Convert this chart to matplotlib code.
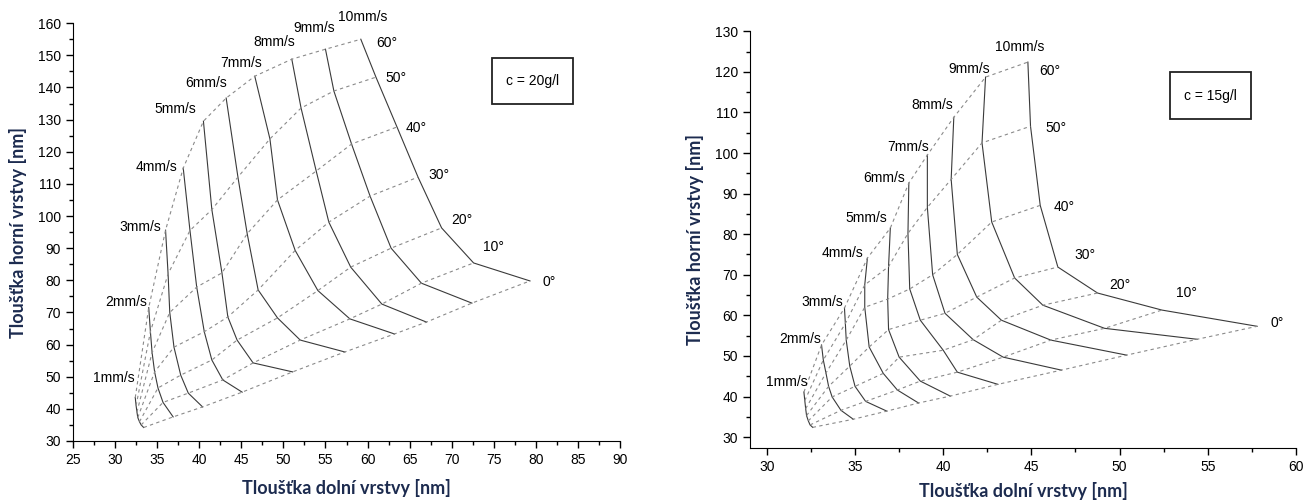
import matplotlib
matplotlib.use('Agg')
import matplotlib.pyplot as plt
from matplotlib.patches import Rectangle
from matplotlib.ticker import MultipleLocator

plt.rcParams['font.family'] = ['Liberation Sans', 'DejaVu Sans']

speeds = [1, 2, 3, 4, 5, 6, 7, 8, 9, 10]
angles = [60, 50, 40, 30, 20, 10, 0]

# c = 20 g/l : one row per speed, columns follow angles (60 ... 0)
left_x = [
    [32.4, 32.5, 32.6, 32.7, 32.9, 33.1, 33.4],
    [34.0, 34.2, 34.4, 34.7, 35.1, 35.7, 36.9],
    [36.0, 36.3, 36.5, 37.0, 37.8, 38.7, 40.4],
    [38.1, 38.9, 39.7, 40.6, 41.5, 42.8, 45.1],
    [40.5, 41.5, 42.7, 43.4, 44.5, 46.4, 51.1],
    [43.2, 44.6, 45.7, 47.0, 49.3, 52.0, 57.3],
    [46.6, 48.4, 49.3, 51.4, 54.1, 57.9, 63.2],
    [51.0, 52.1, 53.9, 55.4, 58.0, 61.7, 67.0],
    [55.0, 56.0, 58.1, 60.3, 62.8, 66.4, 72.4],
    [59.2, 61.0, 63.5, 66.0, 68.8, 72.6, 79.3],
]
left_y = [
    [43.5, 41.0, 39.0, 37.3, 36.0, 35.0, 34.2],
    [71.5, 64.0, 57.5, 51.5, 46.5, 42.0, 37.5],
    [95.6, 82.0, 70.0, 59.2, 50.5, 44.9, 40.6],
    [114.9, 95.5, 77.9, 64.0, 55.2, 49.0, 45.2],
    [129.5, 102.0, 82.3, 68.6, 61.4, 54.3, 51.5],
    [136.7, 112.1, 94.5, 77.0, 68.3, 61.4, 57.7],
    [143.5, 124.0, 105.0, 89.3, 76.8, 68.0, 63.3],
    [148.8, 133.6, 114.0, 98.1, 84.1, 72.6, 67.0],
    [151.9, 138.9, 122.4, 106.2, 90.0, 79.1, 72.9],
    [155.0, 143.2, 127.7, 112.1, 96.3, 85.4, 79.8],
]

# c = 15 g/l
right_x = [
    [32.1, 32.15, 32.2, 32.25, 32.35, 32.45, 32.6],
    [33.1, 33.2, 33.35, 33.5, 33.7, 34.2, 34.9],
    [34.4, 34.45, 34.5, 34.7, 35.0, 35.6, 36.8],
    [35.7, 35.55, 35.55, 35.8, 36.6, 37.4, 38.6],
    [37.0, 36.9, 36.85, 36.9, 37.5, 38.7, 40.4],
    [38.05, 38.0, 38.1, 38.7, 40.0, 40.8, 43.1],
    [39.1, 39.1, 39.4, 40.1, 41.7, 43.4, 46.7],
    [40.6, 40.45, 40.8, 41.9, 43.3, 46.1, 50.4],
    [42.4, 42.2, 42.75, 44.05, 45.65, 49.15, 54.4],
    [44.8, 44.95, 45.5, 46.5, 48.75, 52.4, 57.8],
]
right_y = [
    [41.1, 39.0, 37.0, 35.3, 34.0, 33.0, 32.4],
    [52.7, 49.0, 45.8, 42.5, 39.9, 36.6, 34.4],
    [61.8, 58.0, 53.9, 47.5, 42.5, 38.8, 36.4],
    [74.1, 67.5, 62.0, 52.2, 45.7, 41.6, 38.4],
    [81.5, 72.0, 64.0, 56.5, 49.7, 43.8, 40.1],
    [92.6, 80.2, 66.5, 58.8, 51.4, 46.0, 43.0],
    [99.5, 86.6, 70.0, 60.5, 54.0, 49.7, 46.5],
    [108.8, 93.5, 75.0, 64.5, 58.8, 53.9, 50.2],
    [118.7, 102.5, 83.0, 69.2, 62.5, 56.8, 54.1],
    [122.4, 106.6, 87.1, 71.9, 65.5, 61.3, 57.3],
]

label_color = '#1c2b4f'


def draw_panel(ax, xs, ys, conc, speed_off, angle_off, box, xpad):
    for i in range(len(speeds)):
        ax.plot(xs[i], ys[i], color='#3a3a3a', lw=0.8)
    for j in range(len(angles)):
        ax.plot([r[j] for r in xs], [r[j] for r in ys], color='#8a8a8a',
                lw=0.8, ls=(0, (3, 3)))
    for i, s in enumerate(speeds):
        dx, dy = speed_off[i]
        ha = 'center' if s == 10 else 'right'
        ax.annotate(f'{s}mm/s', (xs[i][0], ys[i][0]), xytext=(dx, dy),
                    textcoords='offset pixels', ha=ha, va='center', fontsize=10)
    for j, a in enumerate(angles):
        dx, dy = angle_off[j]
        ax.annotate(f'{a}°', (xs[-1][j], ys[-1][j]), xytext=(dx, dy),
                    textcoords='offset pixels', ha='left', va='center', fontsize=10)
    ax.add_patch(Rectangle(box[:2], box[2], box[3], transform=ax.transAxes,
                           fill=False, lw=1.3, color='#222222'))
    ax.text(box[0] + box[2] / 2, box[1] + box[3] / 2, f'c = {conc}g/l',
            transform=ax.transAxes, ha='center', va='center', fontsize=10)
    ax.spines['top'].set_visible(False)
    ax.spines['right'].set_visible(False)
    ax.tick_params(which='major', direction='out', length=5, width=1, labelsize=10)
    ax.tick_params(which='minor', direction='out', length=3, width=1)
    ax.xaxis.set_major_locator(MultipleLocator(5))
    ax.xaxis.set_minor_locator(MultipleLocator(2.5))
    ax.yaxis.set_major_locator(MultipleLocator(10))
    ax.yaxis.set_minor_locator(MultipleLocator(5))
    ax.set_xlabel('Tloušťka dolní vrstvy [nm]', family=['Lato', 'DejaVu Sans'],
                  fontweight='bold', fontsize=13, color=label_color, labelpad=xpad)
    ax.set_ylabel('Tloušťka horní vrstvy [nm]', family=['Lato', 'DejaVu Sans'],
                  fontweight='bold', fontsize=13, color=label_color, labelpad=8)


fig = plt.figure(figsize=(13.15, 5.04), dpi=100)
ax1 = fig.add_axes([0.0555, 0.125, 0.416, 0.829])
ax2 = fig.add_axes([0.5703, 0.111, 0.4152, 0.827])

draw_panel(ax1, left_x, left_y, 20,
           [(-1, 20), (-2, 6), (-4, 3), (-6, 1), (-7, 12), (1, 15), (7, 13), (3, 17), (10, 21), (2, 22)],
           [(15, -4), (9, -1), (9, -1), (10, 2), (10, 8), (9, 16), (13, -1)],
           (0.766, 0.806, 0.148, 0.110), 9)
ax1.set_xlim(25, 90)
ax1.set_ylim(30, 160)

draw_panel(ax2, right_x, right_y, 15,
           [(4, 10), (0, 6), (-1, 6), (-4, 5), (-3, 10), (-4, 5), (2, 8), (-1, 12), (4, 8), (-8, 15)],
           [(11, -9), (15, -2), (13, -2), (17, 12), (12, 8), (14, 17), (13, 3)],
           (0.769, 0.789, 0.148, 0.113), 6)
ax2.set_xlim(29.04, 60)
ax2.set_ylim(27.3, 130)

fig.savefig('out.png', dpi=100)
